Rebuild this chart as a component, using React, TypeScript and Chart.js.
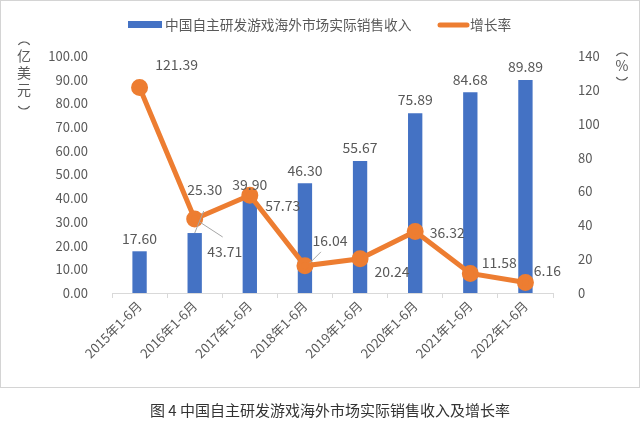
import React, { useEffect, useRef } from "react";
import { Chart, registerables } from "chart.js";

Chart.register(...registerables);

const categories = [
  "2015年1-6月",
  "2016年1-6月",
  "2017年1-6月",
  "2018年1-6月",
  "2019年1-6月",
  "2020年1-6月",
  "2021年1-6月",
  "2022年1-6月",
];
const revenue = [17.6, 25.3, 39.9, 46.3, 55.67, 75.89, 84.68, 89.89];
const growth = [121.39, 43.71, 57.73, 16.04, 20.24, 36.32, 11.58, 6.16];
const revenueName = "中国自主研发游戏海外市场实际销售收入";
const growthName = "增长率";
const caption = "图 4 中国自主研发游戏海外市场实际销售收入及增长率";

// label offsets (relative to each point) for growth labels
const growthLabelOffsets: [number, number][] = [
  [37, -23],
  [30, 33],
  [33, 10],
  [25, -25],
  [32, 13],
  [32, 1],
  [29, -11],
  [22, -12],
];
// label offsets (relative to bar top) for revenue labels
const revenueLabelOffsets: [number, number][] = [
  [0, -13],
  [10, -43],
  [0, -14],
  [0, -13],
  [0, -13],
  [0, -13],
  [0, -13],
  [0, -13],
];

const BLUE = "#4472C4";
const ORANGE = "#ED7D31";
const TEXT = "#595959";
const FONT = "'Noto Sans CJK SC', 'Noto Sans', sans-serif";

export default function App() {
  const ref = useRef<HTMLCanvasElement | null>(null);

  useEffect(() => {
    document.body.style.margin = "0";
    const canvas = ref.current!;
    const labelsPlugin = {
      id: "customLabels",
      afterDatasetsDraw(chart: any) {
        const ctx = chart.ctx;
        ctx.save();
        ctx.font = `14px ${FONT}`;
        ctx.fillStyle = TEXT;
        ctx.textAlign = "center";
        ctx.textBaseline = "middle";
        const barMeta = chart.getDatasetMeta(0);
        const lineMeta = chart.getDatasetMeta(1);
        // leader lines
        ctx.strokeStyle = "#a6a6a6";
        ctx.lineWidth = 1;
        const b1 = barMeta.data[1];
        ctx.beginPath();
        ctx.moveTo(b1.x, b1.y);
        ctx.lineTo(b1.x + 9, b1.y - 22);
        ctx.stroke();
        const p1 = lineMeta.data[1];
        ctx.beginPath();
        ctx.moveTo(p1.x + 5, p1.y + 3);
        ctx.lineTo(p1.x + 28, p1.y + 18);
        ctx.stroke();
        const p3 = lineMeta.data[3];
        ctx.beginPath();
        ctx.moveTo(p3.x + 5, p3.y - 3);
        ctx.lineTo(p3.x + 16, p3.y - 14);
        ctx.stroke();
        barMeta.data.forEach((el: any, i: number) => {
          const [dx, dy] = revenueLabelOffsets[i];
          ctx.fillText(revenue[i].toFixed(2), el.x + dx, el.y + dy);
        });
        lineMeta.data.forEach((el: any, i: number) => {
          const [dx, dy] = growthLabelOffsets[i];
          ctx.fillText(growth[i].toFixed(2), el.x + dx, el.y + dy);
        });
        ctx.restore();
      },
      afterDraw(chart: any) {
        const ctx = chart.ctx;
        ctx.save();
        ctx.font = `14px ${FONT}`;
        ctx.fillStyle = TEXT;
        ctx.strokeStyle = TEXT;
        ctx.lineWidth = 1.2;
        ctx.textAlign = "center";
        ctx.textBaseline = "middle";
        const topArc = (x: number, y: number) => {
          ctx.beginPath();
          ctx.arc(x, y + 6, 7, Math.PI * 1.2, Math.PI * 1.8);
          ctx.stroke();
        };
        const botArc = (x: number, y: number) => {
          ctx.beginPath();
          ctx.arc(x, y - 6, 7, Math.PI * 0.2, Math.PI * 0.8);
          ctx.stroke();
        };
        // left axis title (vertical)
        topArc(24, 43);
        ["亿", "美", "元"].forEach((c, i) => {
          ctx.fillText(c, 24, 56 + i * 17);
        });
        botArc(24, 108);
        // right axis title
        topArc(622, 54);
        ctx.fillText("%", 622, 66);
        botArc(622, 79);
        // legend
        const ly = 25;
        ctx.fillStyle = BLUE;
        ctx.fillRect(128, ly - 4, 34, 7);
        ctx.fillStyle = TEXT;
        ctx.textAlign = "left";
        ctx.font = `13.7px ${FONT}`;
        ctx.fillText(revenueName, 165, ly);
        ctx.strokeStyle = ORANGE;
        ctx.lineWidth = 5;
        ctx.lineCap = "round";
        ctx.beginPath();
        ctx.moveTo(440, ly);
        ctx.lineTo(467, ly);
        ctx.stroke();
        ctx.fillText(growthName, 470, ly);
        ctx.restore();
      },
    };

    const chart = new Chart(canvas, {
      type: "bar",
      data: {
        labels: categories,
        datasets: [
          {
            type: "bar",
            label: revenueName,
            data: revenue,
            backgroundColor: BLUE,
            yAxisID: "y",
            barPercentage: 0.26,
            categoryPercentage: 1,
            order: 2,
          },
          {
            type: "line",
            label: growthName,
            data: growth,
            borderColor: ORANGE,
            backgroundColor: ORANGE,
            borderWidth: 5,
            pointRadius: 6,
            pointBackgroundColor: ORANGE,
            pointBorderColor: ORANGE,
            yAxisID: "y1",
            order: 1,
          } as any,
        ],
      },
      options: {
        animation: false,
        responsive: true,
        maintainAspectRatio: false,
        layout: { padding: { top: 56, left: 0, right: 0, bottom: 0 } },
        plugins: {
          legend: { display: false },
          tooltip: { enabled: false },
        },
        scales: {
          x: {
            grid: {
              display: true,
              offset: true,
              drawOnChartArea: false,
              drawTicks: true,
              tickLength: 5,
              color: "#d9d9d9",
            },
            border: { color: "#d9d9d9" },
            ticks: {
              minRotation: 45,
              maxRotation: 45,
              color: TEXT,
              font: { family: FONT, size: 13 },
              padding: 0,
            },
            afterFit: (s: any) => {
              s.height = 95;
            },
          },
          y: {
            position: "left",
            min: 0,
            max: 100,
            grid: { display: false },
            border: { display: false },
            ticks: {
              stepSize: 10,
              padding: 16,
              color: TEXT,
              font: { family: FONT, size: 13 },
              callback: (v: any) => Number(v).toFixed(2),
            },
            afterFit: (s: any) => {
              s.width = 112;
            },
          },
          y1: {
            position: "right",
            min: 0,
            max: 140,
            grid: { display: false },
            border: { display: false },
            ticks: {
              stepSize: 20,
              padding: 17,
              color: TEXT,
              font: { family: FONT, size: 13 },
            },
            afterFit: (s: any) => {
              s.width = 87;
            },
          },
        },
      } as any,
      plugins: [labelsPlugin],
    });
    return () => chart.destroy();
  }, []);

  return (
    <div style={{ width: 640, height: 431, position: "relative", background: "#fff" }}>
      <div style={{ width: 640, height: 388, position: "relative" }}>
        <canvas ref={ref} />
        <div
          style={{
            position: "absolute",
            left: 0,
            top: 0,
            width: 640,
            height: 388,
            boxSizing: "border-box",
            border: "1px solid #d4d4d4",
            pointerEvents: "none",
          }}
        />
      </div>
      <div
        style={{
          position: "absolute",
          left: 0,
          top: 399,
          width: 640,
          textAlign: "center",
          paddingLeft: 20,
          boxSizing: "border-box",
          fontFamily: "'Noto Sans CJK SC', serif",
          fontSize: 15,
          color: "#333",
        }}
      >
        {caption}
      </div>
    </div>
  );
}
